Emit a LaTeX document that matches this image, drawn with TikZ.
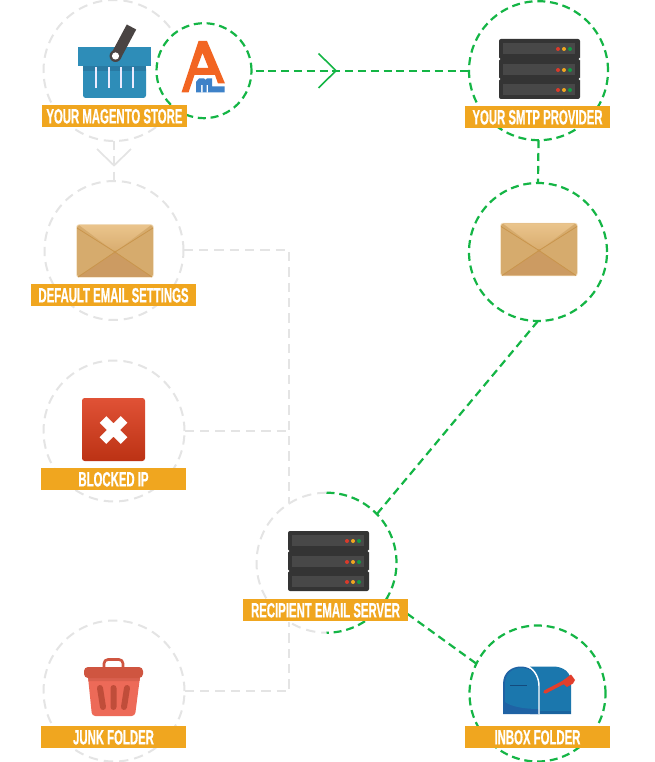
\documentclass[tikz,border=0pt]{standalone}
\usepackage{fontspec}
\setmainfont[FakeStretch=0.55,BoldFont={Liberation Sans Bold},BoldFeatures={FakeBold=0.6}]{Liberation Sans}
\usetikzlibrary{backgrounds}
\definecolor{gline}{HTML}{E4E4E4}
\definecolor{gr}{HTML}{14B545}
\definecolor{lab}{HTML}{F0A61F}
\definecolor{srvd}{HTML}{343434}
\definecolor{srvl}{HTML}{484848}
\definecolor{dotr}{HTML}{D93A2B}
\definecolor{doto}{HTML}{F0A61F}
\definecolor{dotg}{HTML}{129A44}
\definecolor{envs}{HTML}{D6AB6D}
\definecolor{envt}{HTML}{EAC48C}
\definecolor{envtb}{HTML}{D8AC6E}
\definecolor{envb}{HTML}{CC9B62}
\definecolor{envl}{HTML}{C9954C}
\definecolor{envr}{HTML}{F2DDBB}
\definecolor{bask}{HTML}{2E8DB8}
\definecolor{baskd}{HTML}{297AA3}
\definecolor{handl}{HTML}{4A4443}
\definecolor{amo}{HTML}{F26522}
\definecolor{amb}{HTML}{3E82C8}
\definecolor{blkt}{HTML}{E05236}
\definecolor{blkb}{HTML}{BC3214}
\definecolor{trl}{HTML}{CF5540}
\definecolor{trb}{HTML}{ED6A58}
\definecolor{trm}{HTML}{D9604E}
\definecolor{trs}{HTML}{C04D3A}
\definecolor{mbl}{HTML}{1B77AD}
\definecolor{mbd}{HTML}{1F62A4}
\definecolor{mbs}{HTML}{19649F}
\definecolor{mbk}{HTML}{144B7D}
\definecolor{flag}{HTML}{E23E2C}
\tikzset{
 x=0.75pt,y=-0.75pt,
 ring/.style={circle,fill=white,inner sep=0pt,outer sep=0pt,minimum size=#1*1.5pt},
 dashg/.style={draw=gline,line width=1.5pt,dash pattern=on 7pt off 4.5pt},
 dashv/.style={draw=gr,line width=1.65pt,dash pattern=on 6pt off 3.6pt},
 lbl/.style={fill=lab,text=white,font=\bfseries\fontsize{15.5}{16}\selectfont,inner sep=0pt,outer sep=0pt,minimum height=16.5pt,text height=11.1pt,text depth=0pt},
 chevg/.style={draw=gline,line width=1.3pt},
 chevv/.style={draw=gr,line width=1.2pt},
 server/.pic={
  \fill[srvd,rounded corners=1.5pt] (0,0) rectangle (81,60);
  \fill[white] (0,20) circle (1.3) (81,20) circle (1.3) (0,40) circle (1.3) (81,40) circle (1.3);
  \foreach \yy/\dd in {4/10,25/31,45/51}{
   \fill[srvl] (4,\yy) rectangle (76,\yy+11);
   \fill[dotr] (59,\dd) circle (2);
   \fill[doto] (65,\dd) circle (2);
   \fill[dotg] (71,\dd) circle (2);
  }
 },
 envelope/.pic={
  \fill[rounded corners=2pt,envr] (-0.7,-0.7) rectangle (76.7,52.7);
  \fill[rounded corners=2pt,envs] (0,0) rectangle (76,52);
  \shade[top color=envt,bottom color=envtb] (2,0) -- (74,0) -- (38,27) -- cycle;
  \fill[envb] (1,52) -- (38,27) -- (75,52) -- cycle;
  \draw[envl,line width=0.6pt] (0,3) -- (38,27) -- (76,3) (1,52) -- (38,27) -- (75,52);
  \fill[envl] (38,27) circle (1.3);
 }
}
\begin{document}
\begin{tikzpicture}
\useasboundingbox (0,0) rectangle (654,762);
% circles
\node[ring=70.5,dashg,draw] (mag) at (114,70.5) {};
\node[ring=47.5,dashv,draw] (am) at (204,70.7) {};
\node[ring=69.5,dashv,draw] (smtp) at (538.5,70.7) {};
\node[ring=69,dashv,draw] (env) at (538,252) {};
\node[ring=69.5,dashg,draw] (def) at (114,250.5) {};
\node[ring=70.5,dashg,draw] (blk) at (114,431) {};
\node[ring=70.5,dashg,draw] (jnk) at (114,691) {};
\node[ring=70] (rec) at (326.5,562.7) {};
\node[ring=68,dashv,draw] (inb) at (537.5,693.5) {};
\draw[dashg] (rec.north) arc[start angle=90,end angle=270,radius=52.5pt];
\draw[dashv] (rec.north) arc[start angle=90,end angle=-90,radius=52.5pt];
% connectors
\coordinate (amtip) at (336,70.7);
\coordinate (magtip) at (114,165.5);
\begin{scope}[on background layer]
 \draw[dashv] (am.east) ++(4,0) -- (smtp.west);
 \draw[dashv] (smtp.south) -- (env.north);
 \draw[dashv] (env.south) -- (rec.44);
 \draw[dashv] (rec.-31) -- (inb.154);
 \draw[dashg] (mag.south) -- (def.north);
 \draw[dashg] (def.east) -| (rec.122);
 \draw[dashg] (blk.east) -- (blk.east -| rec.122);
 \draw[dashg] (jnk.east) -| (rec.-122);
\end{scope}
\draw[chevv] (318.5,53.5) -- (amtip) -- (318.5,88);
\draw[chevg] (97,149) -- (magtip) -- (131,149);
% basket
\fill[rounded corners=2pt,bask] (83,66) -- (146,66) -- (146,98) -- (83,98) -- cycle;
\fill[bask] (78,47) rectangle (151,66.5);
\fill[baskd] (83,66.5) rectangle (146,71);
\foreach \bx in {96,108.5,120.5,133}{\fill[white!92!blue] (\bx-1,67) rectangle (\bx+1,88);}
\draw[line width=8pt,color=handl] (116,56) -- (131.5,27);
\fill[handl] (115.5,56) circle (6);
\fill[white] (115.5,56) circle (3.6);
% Am logo
\fill[amo,even odd rule] (198.5,41) -- (207,41) -- (225,83.5) -- (218,83.5) -- (215,75) -- (194.5,75) -- (188.5,92.5) -- (181.5,92.5) -- cycle (202.5,53) -- (208.5,68) -- (197,68) -- cycle;
\fill[amb,even odd rule] (196,92.5) -- (196,82) -- (199,78.5) -- (204,78.5) -- (205.5,80) -- (207,78.5) -- (212,78.5) -- (212,86.5) -- (224.5,86.5) -- (224.5,92.5) -- cycle (201,85) rectangle (202.5,92.5) (206.5,85) rectangle (208,92.5);
% servers
\pic at (499,39) {server};
\pic at (288,531) {server};
% envelopes
\pic at (501,223.5) {envelope};
\pic at (77,225) {envelope};
% blocked
\shade[rounded corners=2pt,top color=blkt,bottom color=blkb] (82,398) rectangle (145,461);
\draw[white,line width=7pt] (103,419.5) -- (124,440.5) (124,419.5) -- (103,440.5);
% trash
\draw[trl,line width=2pt,rounded corners=3pt] (104,667) -- (104,659.5) -- (123,659.5) -- (123,667);
\fill[trb,rounded corners=2.5pt] (88,677) -- (140,677) -- (135,716) -- (92,716) -- cycle;
\fill[trm] (88,677) -- (140,677) -- (139.6,681) -- (88.4,681) -- cycle;
\fill[trl,rounded corners=3pt] (84,678) -- (84,667) -- (143,667) -- (143,678) -- cycle;
\draw[trs,line width=4.5pt,line cap=round] (100,688) -- (103,707) (113.5,688) -- (113.5,707) (127,688) -- (124,707);
% mailbox
\fill[mbl] (530,714) -- (530,666.5) -- (553,666.5) .. controls (563,666.5) and (571,672) .. (571,682) -- (571,714) -- cycle;
\fill[mbs] (540,711) rectangle (571,714);
\fill[mbd] (503,714) -- (503,684) .. controls (503,672) and (512,666.5) .. (521,666.5) .. controls (530,666.5) and (539,673) .. (539,684) -- (539,714) -- cycle;
\fill[mbl] (505,702) .. controls (512,707) and (525,709) .. (539,709) -- (539,684) .. controls (539,674) and (530,668) .. (521,668) .. controls (512,668) and (505,674) .. (505,684) -- cycle;
\draw[white,line width=1.1pt] (528,666.5) .. controls (535,670) and (539,678) .. (539,686) -- (539,714);
\draw[mbk,line width=0.9pt] (510,685.5) -- (527,685.5);
\draw[flag,line width=2.6pt,line cap=round] (545,692) -- (566,681);
\fill[flag] (561,682) -- (571,674.5) -- (575,680) -- (573,683.5) -- (567,687) -- cycle;
% labels
\node[lbl,minimum width=108.6pt] (lmag) at (114.4,116) {YOUR MAGENTO STORE};
\node[lbl,minimum width=108.75pt] (lsmtp) at (537.5,117) {YOUR SMTP PROVIDER};
\node[lbl,minimum width=123.75pt] (ldef) at (113.5,295) {DEFAULT EMAIL SETTINGS};
\node[lbl,minimum width=108.75pt] (lblk) at (113.5,479) {BLOCKED IP};
\node[lbl,minimum width=123.75pt] (lrec) at (325.5,610) {RECIPIENT EMAIL SERVER};
\node[lbl,minimum width=108.75pt] (linb) at (537.5,737) {INBOX FOLDER};
\node[lbl,minimum width=108.75pt] (ljnk) at (113.5,737) {JUNK FOLDER};
\end{tikzpicture}
\end{document}
